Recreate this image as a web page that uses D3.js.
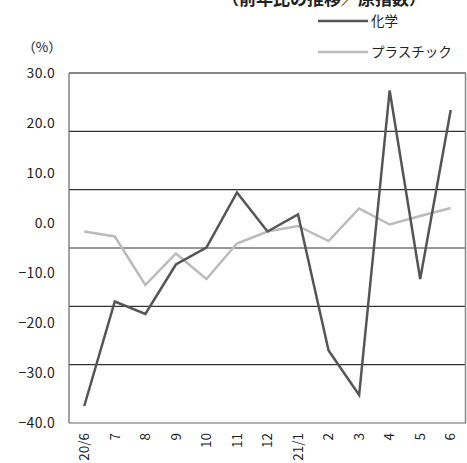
<!DOCTYPE html>
<html><head><meta charset="utf-8">
<script src="https://cdn.jsdelivr.net/npm/d3@7"></script>
<style>body{margin:0;background:#fff}svg{display:block}text{font-family:"Noto Sans CJK JP","Noto Sans",sans-serif;fill:#222}</style>
</head><body>
<script>
const categories = ["20/6","7","8","9","10","11","12","21/1","2","3","4","5","6"];
const chemical = [-36.6,-15.7,-18.2,-8.3,-4.9,6.1,-1.7,1.7,-25.5,-34.4,26.5,-11.2,22.6];
const plastic = [-1.7,-2.7,-12.4,-6.1,-11.2,-4.1,-1.7,-0.6,-3.6,2.9,-0.3,1.4,3.0];
const yTicks = [30,20,10,0,-10,-20,-30,-40];
const seriesNames = ["化学","プラスチック"];
const title = "（前年比の推移／原指数）";

const W=467,H=463;
const L=69,R=466,T=73,B=423;
const svg=d3.select("body").append("svg").attr("width",W).attr("height",H);
const x=d3.scaleBand().domain(categories).range([L,R]);
const y=d3.scaleLinear().domain([-40,30]).range([B,T]);
const cx=d=>x(d)+x.bandwidth()/2;

// title (cut off at top, as in the reference)
svg.append("text").attr("x",222).attr("y",5).attr("font-size",17).attr("font-weight","bold").text(title);

// grid lines (6 equal divisions of the plot)
const gridVals=d3.range(1,6).map(k=>30-70*k/6);
svg.selectAll(".grid").data(gridVals).enter().append("line")
 .attr("x1",L).attr("x2",R).attr("y1",d=>y(d)).attr("y2",d=>y(d))
 .attr("stroke","#333").attr("stroke-width",1.2);
// frame
svg.append("line").attr("x1",L).attr("x2",R).attr("y1",T).attr("y2",T).attr("stroke","#111").attr("stroke-width",1.2);
svg.append("line").attr("x1",R-0.5).attr("x2",R-0.5).attr("y1",T).attr("y2",B).attr("stroke","#888").attr("stroke-width",1.5);
svg.append("line").attr("x1",L).attr("x2",L).attr("y1",T).attr("y2",B).attr("stroke","#666").attr("stroke-width",1.2);
svg.append("line").attr("x1",L).attr("x2",R).attr("y1",B).attr("y2",B).attr("stroke","#666").attr("stroke-width",1.2);

// y labels
svg.selectAll(".yl").data(yTicks).enter().append("text")
 .attr("x",55).attr("y",d=>y(d)).attr("dy","0.35em").attr("text-anchor","end").attr("font-size",14)
 .attr("letter-spacing",0.3)
 .text(d=>d3.format(".1f")(d));
svg.append("text").attr("x",42).attr("y",47).attr("dy","0.35em").attr("text-anchor","middle").attr("font-size",13.5).text("（%）");

// x labels rotated
svg.selectAll(".xl").data(categories).enter().append("text")
 .attr("transform",d=>`translate(${cx(d)},433) rotate(-90)`)
 .attr("dy","0.35em").attr("text-anchor","end").attr("font-size",13.5).text(d=>d);

const line=d3.line().x((d,i)=>cx(categories[i])).y(d=>y(d));
svg.append("path").datum(plastic).attr("d",line).attr("fill","none").attr("stroke","#bbb").attr("stroke-width",2.5);
svg.append("path").datum(chemical).attr("d",line).attr("fill","none").attr("stroke","#555").attr("stroke-width",2.5);

// legend
const lg=[{n:seriesNames[0],c:"#555",y:21},{n:seriesNames[1],c:"#bbb",y:52}];
lg.forEach(d=>{
 svg.append("line").attr("x1",318).attr("x2",368).attr("y1",d.y).attr("y2",d.y).attr("stroke",d.c).attr("stroke-width",2.5);
 svg.append("text").attr("x",371).attr("y",d.y).attr("dy","0.35em").attr("font-size",13.5).text(d.n);
});
</script>
</body></html>
